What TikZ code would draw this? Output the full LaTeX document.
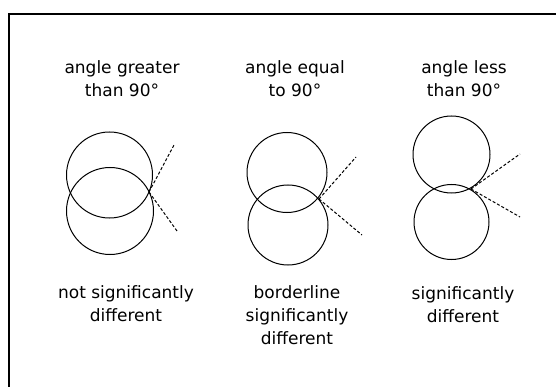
\documentclass[tikz,border=0pt]{standalone}
\usepackage{fontspec}
\newfontfamily\pxfont{DejaVu Sans}
\begin{document}
\begin{tikzpicture}[x=1pt,y=-1pt,
  lbl/.style={align=center,inner sep=0pt,font=\pxfont\fontsize{17}{23}\selectfont},
  ring/.style={draw=black,line width=1pt},
  ray/.style={draw=black,line width=1pt,dash pattern=on 3pt off 2pt},
  frame/.style={draw=black,line width=2pt}]
\useasboundingbox (0,0) rectangle (556,387);
\fill[white] (0,0) rectangle (556,387);
% frame
\coordinate (fbl) at (9,390);
\coordinate (ftl) at (9,14);
\coordinate (ftr) at (560,14);
\draw[frame] (fbl) -- (ftl) -- (ftr);

% top labels
\node[lbl] (t1) at (122,79) {angle greater\\than 90°};
\node[lbl] (t2) at (295,79) {angle equal\\to 90°};
\node[lbl] (t3) at (464,79) {angle less\\than 90°};

% bottom labels
\node[lbl] (b1) at (126,304) {not significantly\\different};
\node[lbl] (b2) at (297,315) {borderline\\significantly\\different};
\node[lbl] (b3) at (463,305) {significantly\\different};

% panel 1
\draw[ring] (109.5,175) circle (43);
\draw[ring] (110,211) circle (43.5);
\coordinate (p1) at (149,192);
\coordinate (p1u) at (174,145);
\coordinate (p1d) at (177,231);
\draw[ray] (p1) -- (p1u);
\draw[ray] (p1) -- (p1d);

% panel 2
\draw[ring] (287,172.5) circle (40);
\draw[ring] (288,225) circle (40);
\coordinate (p2) at (319,199);
\coordinate (p2u) at (356,157);
\coordinate (p2d) at (362,235);
\draw[ray] (p2) -- (p2u);
\draw[ray] (p2) -- (p2d);

% panel 3
\draw[ring] (451.5,154.5) circle (38.5);
\draw[ring] (451.5,222) circle (37.5);
\coordinate (p3) at (471,189);
\coordinate (p3u) at (520,154);
\coordinate (p3d) at (520,217);
\draw[ray] (p3) -- (p3u);
\draw[ray] (p3) -- (p3d);
\end{tikzpicture}
\end{document}
